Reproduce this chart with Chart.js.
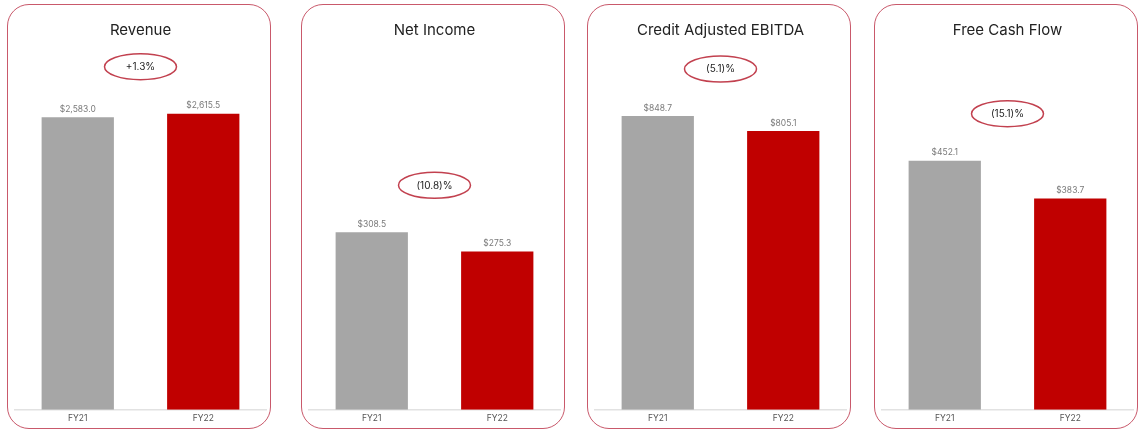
<!DOCTYPE html>
<html lang="en">
<head>
    <meta charset="utf-8" />
    <title>FY21 vs FY22 Key Metrics</title>
    <script src="https://cdn.jsdelivr.net/npm/chart.js"></script>
    <style>
        body {
            margin: 0;
            background: #fff;
            width: 1140px;
            height: 430px;
            position: relative;
            font-family: Inter, "Noto Sans", sans-serif;
        }

        .panel {
            position: absolute;
            top: 4px;
            width: 262px;
            height: 423px;
            border: 1.5px solid #c9596b;
            border-radius: 22px;
            overflow: hidden;
        }

        .panel canvas {
            display: block;
        }
    </style>
</head>
<body>
    <div class="panel" style="left: 7px"><canvas id="c0" width="262" height="423"></canvas></div>
    <div class="panel" style="left: 301px"><canvas id="c1" width="262" height="423"></canvas></div>
    <div class="panel" style="left: 587px"><canvas id="c2" width="262" height="423"></canvas></div>
    <div class="panel" style="left: 874px"><canvas id="c3" width="262" height="423"></canvas></div>
    <script>
        // Fiscal years on each x axis
        const years = ['FY21', 'FY22'];

        // One panel per metric ($ millions)
        const titles = ['Revenue', 'Net Income', 'Credit Adjusted EBITDA', 'Free Cash Flow'];
        const fy21 = [2583.0, 308.5, 848.7, 452.1];
        const fy22 = [2615.5, 275.3, 805.1, 383.7];
        const changes = ['+1.3%', '(10.8)%', '(5.1)%', '(15.1)%'];

        // top of each value axis
        const axisMax = [3085, 607, 1009, 634];

        const barColors = ['#a6a6a6', '#c00000'];

        function money(v) {
            return '$' + v.toLocaleString('en-US', { minimumFractionDigits: 1, maximumFractionDigits: 1 });
        }

        // value labels over the bars + the circled change figure
        const annotate = {
            id: 'annotate',
            afterDatasetsDraw(chart, args, opts) {
                const ctx = chart.ctx;
                const meta = chart.getDatasetMeta(0);
                const values = chart.data.datasets[0].data;
                ctx.save();
                ctx.textAlign = 'center';
                ctx.textBaseline = 'middle';
                ctx.fillStyle = '#7a7a7a';
                ctx.font = '8.5px Inter';
                meta.data.forEach((bar, i) => {
                    ctx.fillText(money(values[i]), bar.x, bar.y - 8);
                });

                const area = chart.chartArea;
                const cx = (area.left + area.right) / 2;
                const cy = chart.scales.y.getPixelForValue(Math.max(...values)) - 47;
                ctx.beginPath();
                ctx.ellipse(cx, cy, 36, 13, 0, 0, Math.PI * 2);
                ctx.strokeStyle = '#c2414f';
                ctx.lineWidth = 1.5;
                ctx.stroke();
                ctx.fillStyle = '#222';
                ctx.font = '10px Inter';
                ctx.fillText(opts.change, cx, cy + 0.5);
                ctx.restore();
            }
        };

        titles.forEach((title, i) => {
            new Chart(document.getElementById('c' + i), {
                type: 'bar',
                data: {
                    labels: years,
                    datasets: [{
                        data: [fy21[i], fy22[i]],
                        backgroundColor: barColors,
                        borderWidth: 0,
                        barPercentage: 0.576,
                        categoryPercentage: 1
                    }]
                },
                plugins: [annotate],
                options: {
                    responsive: false,
                    animation: false,
                    layout: { padding: { left: 7, right: 4, top: 0, bottom: 0 } },
                    plugins: {
                        legend: { display: false },
                        tooltip: { enabled: false },
                        title: {
                            display: true,
                            text: title,
                            color: '#222',
                            font: { family: 'Inter', size: 15, weight: 'normal' },
                            padding: { top: 16, bottom: 21.5 }
                        },
                        annotate: { change: changes[i] }
                    },
                    scales: {
                        x: {
                            grid: { display: false, drawTicks: false },
                            border: { display: true, color: '#e2e2e2', width: 1.5 },
                            ticks: { color: '#555', font: { family: 'Inter', size: 8.5 }, padding: 4 }
                        },
                        y: {
                            display: false,
                            min: 0,
                            max: axisMax[i]
                        }
                    }
                }
            });
        });
    </script>
</body>
</html>
